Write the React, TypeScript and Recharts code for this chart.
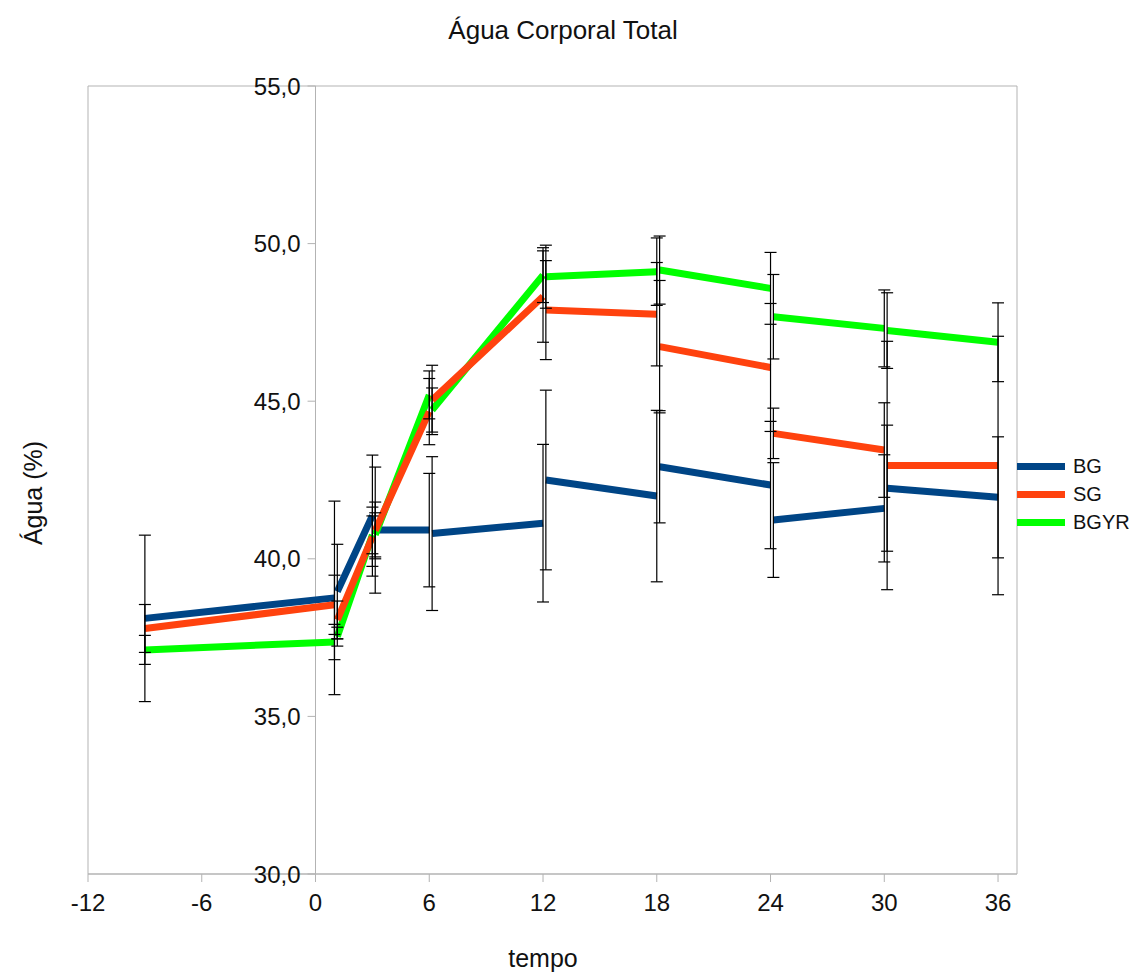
import React from "react"
import { LineChart, Line, XAxis, YAxis, ReferenceLine, ReferenceArea, ErrorBar } from "recharts"

const FONT = '"Liberation Sans", Arial, sans-serif'

const seriesNames = ["BG", "SG", "BGYR"]
const seriesColors = ["#004586", "#ff420e", "#00ff00"]

// each interval is its own segment (start point, end point)
const segStartX = [-9, 1.15, 3.15, 6.15, 12.15, 18.15, 24.15, 30.15]
const segEndX = [1, 3, 6, 12, 18, 24, 30, 36]

const bgStart = [38.11, 38.96, 40.91, 40.8, 42.5, 42.92, 41.23, 42.24]
const bgEnd = [38.76, 41.37, 40.91, 41.13, 41.99, 42.34, 41.6, 41.95]
const bgStartErr = [2.64, 1.5, 2.0, 2.44, 2.85, 1.78, 1.82, 2.0]
const bgEndErr = [3.07, 1.92, 1.8, 2.5, 2.72, 2.02, 1.7, 1.92]

const sgStart = [37.79, 38.06, 40.9, 45.04, 47.89, 46.73, 43.98, 42.96]
const sgEnd = [38.54, 40.7, 44.67, 48.32, 47.76, 46.07, 43.45, 42.96]
const sgStartErr = [0.76, 0.6, 0.9, 1.1, 1.57, 2.1, 0.8, 3.94]
const sgEndErr = [0.94, 0.94, 1.05, 1.45, 1.64, 2.03, 1.5, 4.1]

const bgyrStart = [37.11, 37.53, 40.76, 44.72, 48.95, 49.16, 47.68, 47.24]
const bgyrEnd = [37.36, 40.76, 45.2, 49.0, 49.11, 48.58, 47.31, 46.87]
const bgyrStartErr = [0.46, 0.3, 0.7, 0.7, 1.0, 1.08, 1.34, 1.2]
const bgyrEndErr = [0.56, 0.6, 0.76, 0.87, 1.07, 1.14, 1.22, 1.25]

const xTicks = [-12, -6, 0, 6, 12, 18, 24, 30, 36]
const yTicks = [30, 35, 40, 45, 50, 55]

type Pt = { x: number; y: number | null; err: number | null }

function buildLine(start: number[], end: number[], startErr: number[], endErr: number[]): Pt[] {
  const pts: Pt[] = []
  segStartX.forEach((sx, i) => {
    pts.push({ x: sx, y: start[i], err: startErr[i] })
    pts.push({ x: segEndX[i], y: end[i], err: endErr[i] })
    pts.push({ x: segEndX[i], y: null, err: null }) // break
  })
  return pts
}

const seriesData = [
  buildLine(bgStart, bgEnd, bgStartErr, bgEndErr),
  buildLine(sgStart, sgEnd, sgStartErr, sgEndErr),
  buildLine(bgyrStart, bgyrEnd, bgyrStartErr, bgyrEndErr),
]

const drawOrder = [0, 2, 1]

export default function App() {
  return (
    <div style={{ position: "relative", width: 1133, height: 972, fontFamily: FONT, background: "#fff", color: "#111" }}>
      <style>{"body{margin:0}"}</style>
      <LineChart
        width={1133}
        height={972}
        margin={{ top: 86, right: 116, left: 88, bottom: 38 }}
        style={{ fontFamily: FONT, position: "absolute", left: 0, top: 0 }}
      >
        <XAxis
          dataKey="x"
          type="number"
          domain={[-12, 37]}
          ticks={xTicks}
          allowDataOverflow
          height={60}
          stroke="#b3b3b3"
          tickSize={8}
          tickMargin={12}
          tick={{ fill: "#111", fontSize: 24 }}
        />
        <YAxis type="number" domain={[30, 55]} ticks={yTicks} hide allowDataOverflow />
        <ReferenceArea x1={-12} x2={37} y1={30} y2={55} fill="none" stroke="#b3b3b3" strokeWidth={1} />
        <ReferenceLine x={0} stroke="#b3b3b3" strokeWidth={1} />
        {yTicks.map((v) => (
          <ReferenceLine
            key={v}
            segment={[
              { x: -0.42, y: v },
              { x: 0, y: v },
            ]}
            stroke="#b3b3b3"
            label={{ value: v.toFixed(1).replace(".", ","), position: "left", offset: 7, fill: "#111", fontSize: 24 }}
          />
        ))}
        {drawOrder.map((i) => (
          <Line
            key={seriesNames[i]}
            data={seriesData[i]}
            dataKey="y"
            type="linear"
            stroke={seriesColors[i]}
            strokeWidth={7}
            dot={false}
            activeDot={false}
            connectNulls={false}
            isAnimationActive={false}
          />
        ))}
        {drawOrder.map((i) => (
          <Line
            key={seriesNames[i] + "-err"}
            data={seriesData[i].filter((p) => p.y !== null)}
            dataKey="y"
            stroke="none"
            dot={false}
            activeDot={false}
            legendType="none"
            isAnimationActive={false}
          >
            <ErrorBar dataKey="err" direction="y" width={6} stroke="#000" strokeWidth={1.2} isAnimationActive={false} />
          </Line>
        ))}
      </LineChart>

      <div style={{ position: "absolute", left: 0, width: 1126, top: 17, textAlign: "center", fontSize: 26, lineHeight: 1 }}>
        Água Corporal Total
      </div>
      <div
        style={{
          position: "absolute",
          left: 33,
          top: 493,
          transform: "translate(-50%, -50%) rotate(-90deg)",
          whiteSpace: "nowrap",
          fontSize: 25,
          lineHeight: 1,
        }}
      >
        Água (%)
      </div>
      <div
        style={{
          position: "absolute",
          left: 543,
          top: 958,
          transform: "translate(-50%, -50%)",
          fontSize: 25,
          lineHeight: 1,
        }}
      >
        tempo
      </div>
      <div style={{ position: "absolute", left: 1017, top: 452 }}>
        {seriesNames.map((name, i) => (
          <div key={name} style={{ display: "flex", alignItems: "center", height: 28 }}>
            <div style={{ width: 48, height: 7, background: seriesColors[i] }} />
            <span style={{ marginLeft: 8, fontSize: 20, lineHeight: 1 }}>{name}</span>
          </div>
        ))}
      </div>
    </div>
  )
}
